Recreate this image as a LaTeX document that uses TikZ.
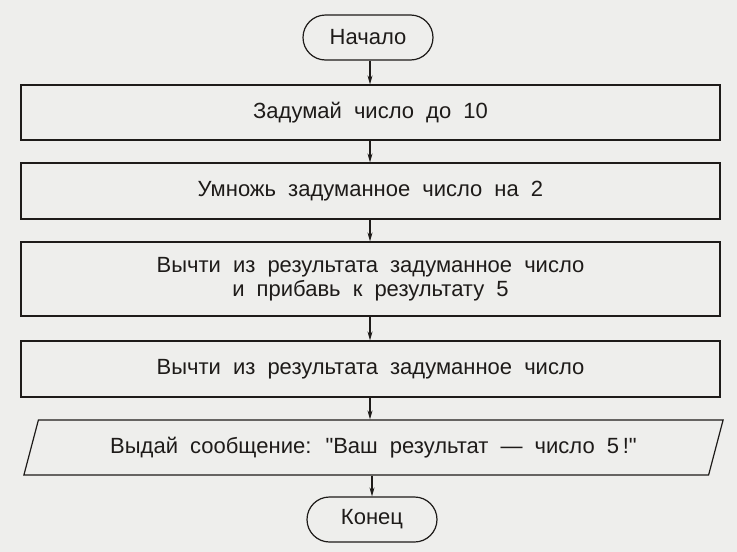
\documentclass[tikz,border=0pt]{standalone}
\usepackage{fontspec}
\setmainfont{Liberation Sans}[Ligatures=TeXOff]
\usetikzlibrary{shapes.geometric,arrows.meta}
\definecolor{paper}{RGB}{238,238,236}
\definecolor{ink}{RGB}{30,27,25}
\newcommand\flowfont{\fontsize{22}{24}\selectfont\spaceskip=0.55em plus 0.1em minus 0.05em\relax}
\tikzset{
  base/.style={draw=ink, line width=1.2pt, text=ink, inner sep=0pt,
    font=\flowfont, align=center},
  termbox/.style={base, rounded corners=22.5pt, minimum width=130pt, minimum height=45pt},
  actbox/.style={base, rectangle, minimum width=699pt},
  iobox/.style={base, trapezium, trapezium left angle=61.4, trapezium right angle=118.6,
    trapezium stretches=true, minimum width=701pt, minimum height=55pt},
  flow/.style={draw=ink, line width=1.1pt, -{Stealth[length=9pt,width=5pt]}}
}
\begin{document}
\begin{tikzpicture}[x=1pt,y=-1pt]
\fill[paper] (0,0) rectangle (737,552);
\useasboundingbox (0,0) rectangle (737,552);
\node[termbox] (start) at (368,37.5) {Начало};
\node[actbox, minimum height=55pt] (b1) at (370.5,112.5) {Задумай число до 10};
\node[actbox, minimum height=56pt] (b2) at (370.5,191) {Умножь задуманное число на 2};
\node[actbox, minimum height=74pt] (b3) at (370.5,279) {Вычти из результата задуманное число\\и прибавь к результату 5};
\node[actbox, minimum height=56pt] (b4) at (370.5,369) {Вычти из результата задуманное число};
\node[iobox] (out) at (373.5,447.5) {Выдай сообщение: "Ваш результат — число 5\,!"};
\node[termbox] (end) at (372,519.5) {Конец};
\draw[flow] (start.south -| 370,0) -- (b1.north -| 370,0);
\draw[flow] (b1.south -| 370,0) -- (b2.north -| 370,0);
\draw[flow] (b2.south -| 370,0) -- (b3.north -| 370,0);
\draw[flow] (b3.south -| 370,0) -- (b4.north -| 370,0);
\draw[flow] (b4.south -| 370,0) -- (out.north -| 370,0);
\draw[flow] (out.south -| 372,0) -- (end.north -| 372,0);
\end{tikzpicture}
\end{document}
